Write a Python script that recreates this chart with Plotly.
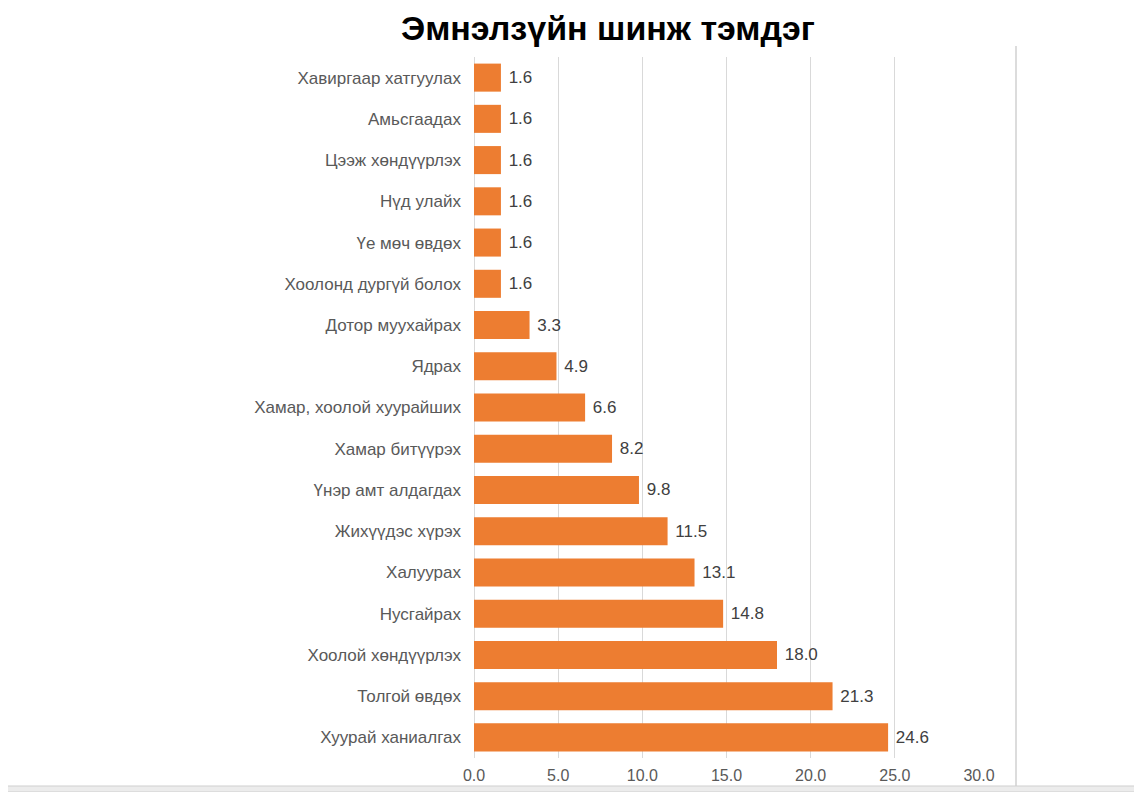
import plotly.graph_objects as go

# symptoms, top to bottom as shown
symptoms = [
    "Хавиргаар хатгуулах",
    "Амьсгаадах",
    "Цээж хөндүүрлэх",
    "Нүд улайх",
    "Үе мөч өвдөх",
    "Хоолонд дургүй болох",
    "Дотор муухайрах",
    "Ядрах",
    "Хамар, хоолой хуурайших",
    "Хамар битүүрэх",
    "Үнэр амт алдагдах",
    "Жихүүдэс хүрэх",
    "Халуурах",
    "Нусгайрах",
    "Хоолой хөндүүрлэх",
    "Толгой өвдөх",
    "Хуурай ханиалгах",
]
percent = [1.6, 1.6, 1.6, 1.6, 1.6, 1.6, 3.3, 4.9, 6.6, 8.2, 9.8, 11.5, 13.1, 14.8, 18.0, 21.3, 24.6]
x_ticks = [0, 5, 10, 15, 20, 25, 30]

font_name = "Liberation Sans, Arial, sans-serif"

# page puts the figure 8px in from the top-left corner
L, R, T, B = 466, 171, 49, 42
plot_w = 1142 - L - R
plot_h = 792 - T - B


def px_x(fx):
    return (fx - L) / plot_w


def px_y(fy):
    return (792 - B - fy) / plot_h


fig = go.Figure()
fig.add_trace(go.Bar(
    x=percent,
    y=symptoms,
    orientation="h",
    marker=dict(color="#ED7D31", line=dict(width=0)),
    width=0.68,
    texttemplate=" %{x:.1f}",
    textposition="outside",
    textfont=dict(size=17, color="#404040", family=font_name),
    cliponaxis=False,
))

fig.update_layout(
    width=1142,
    height=792,
    paper_bgcolor="white",
    plot_bgcolor="white",
    showlegend=False,
    margin=dict(l=L, r=R, t=T, b=B),
    title=dict(
        text="<b>Эмнэлзүйн шинж тэмдэг</b>",
        x=600 / 1142, xanchor="center",
        y=1.0, yanchor="top",
        pad=dict(t=8),
        font=dict(size=34, color="black", family=font_name),
    ),
    xaxis=dict(
        range=[0, 30],
        tickvals=x_ticks,
        tickformat=".1f",
        showgrid=True,
        gridcolor="#d9d9d9",
        gridwidth=1,
        zeroline=True,
        zerolinecolor="#d9d9d9",
        zerolinewidth=1,
        showline=False,
        ticks="",
        ticklabelstandoff=6,
        tickfont=dict(size=16, color="#595959", family=font_name),
    ),
    yaxis=dict(
        autorange="reversed",
        showgrid=False,
        ticks="",
        ticklabelstandoff=12,
        tickfont=dict(size=17, color="#595959", family=font_name),
    ),
    shapes=[
        # chart frame edge on the right
        dict(type="line", xref="paper", yref="paper",
             x0=px_x(1008), x1=px_x(1008),
             y0=px_y(778), y1=px_y(38), line=dict(color="#d0d0d0", width=1.5)),
        # gray strip at the bottom of the page
        dict(type="rect", xref="paper", yref="paper",
             x0=px_x(-8), x1=px_x(1142),
             y0=px_y(784), y1=px_y(778),
             fillcolor="#ececec", line=dict(color="#cfcfcf", width=1)),
    ],
)

fig.write_html("out.html")
